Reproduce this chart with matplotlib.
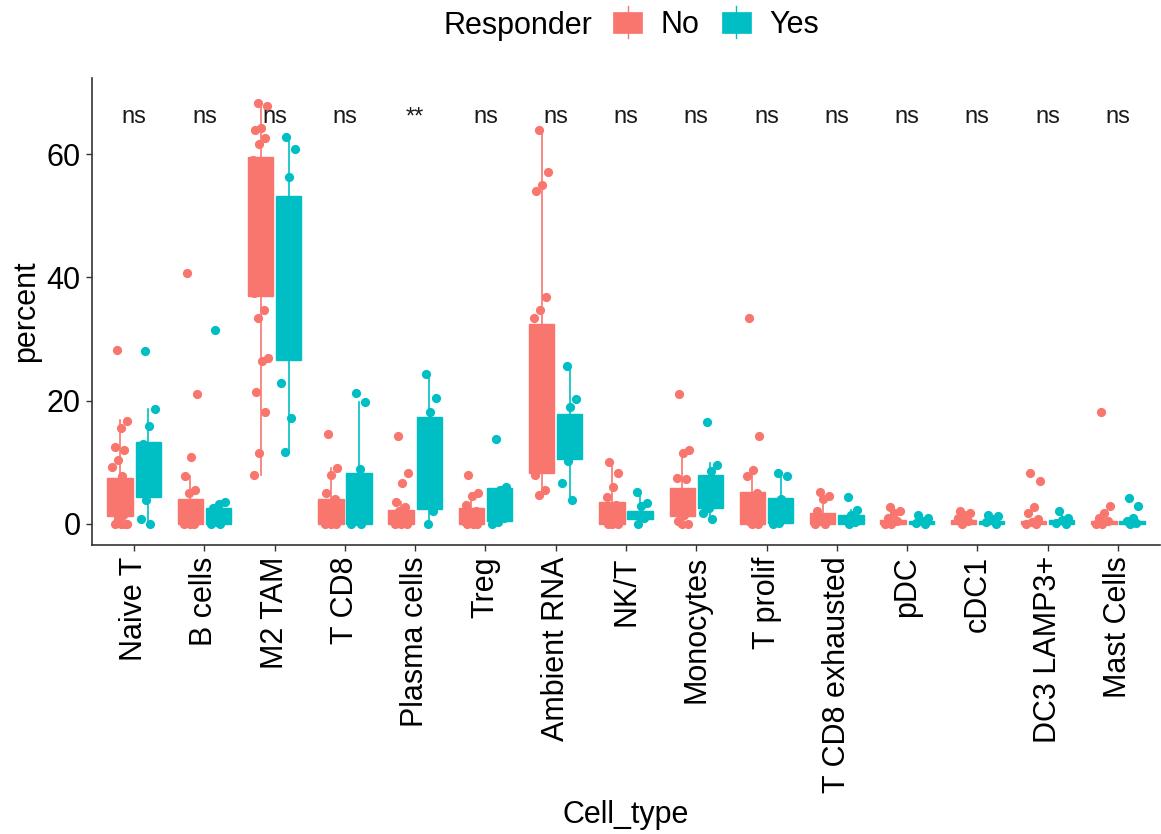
import numpy as np
import matplotlib
matplotlib.use("Agg")
import matplotlib.pyplot as plt
from matplotlib.patches import Rectangle
from matplotlib.lines import Line2D
from matplotlib.legend_handler import HandlerBase

plt.rcParams['font.family'] = ['Liberation Sans', 'DejaVu Sans']

cell_types = ["Naive T", "B cells", "M2 TAM", "T CD8", "Plasma cells", "Treg",
              "Ambient RNA", "NK/T", "Monocytes", "T prolif", "T CD8 exhausted",
              "pDC", "cDC1", "DC3 LAMP3+", "Mast Cells"]
signif = ["ns", "ns", "ns", "ns", "**", "ns", "ns", "ns", "ns", "ns", "ns",
          "ns", "ns", "ns", "ns"]

# box stats per cell type: q1, median, q3, lower whisker, upper whisker
no_q1 = [1.2, 0, 37.0, 0, 0, 0, 8.2, 0, 1.2, 0, 0, 0, 0, 0, 0]
no_med = [3.5, 1.5, 47.0, 1.5, 1.0, 1.0, 15.0, 1.0, 3.0, 2.0, 0.5, 0.3, 0.3, 0.2, 0.1]
no_q3 = [7.4, 4.0, 59.6, 4.0, 2.3, 2.6, 32.4, 3.5, 5.8, 5.2, 1.7, 0.6, 0.6, 0.4, 0.4]
no_lo = [0, 0, 8.0, 0, 0, 0, 4.7, 0, 0, 0, 0, 0, 0, 0, 0]
no_hi = [16.9, 7.8, 68.4, 9.0, 3.6, 5.0, 63.9, 10.1, 11.5, 8.8, 5.2, 1.5, 1.5, 0.8, 1.0]

yes_q1 = [4.3, 0, 26.6, 0, 2.4, 0.4, 10.5, 0.8, 2.5, 0.2, 0, 0, 0, 0, 0]
yes_med = [9.0, 1.0, 38.0, 3.0, 8.0, 3.0, 13.0, 1.2, 5.0, 2.0, 0.6, 0.2, 0.3, 0.2, 0.1]
yes_q3 = [13.3, 2.6, 53.2, 8.3, 17.4, 5.8, 17.9, 2.0, 8.0, 4.2, 1.5, 0.4, 0.5, 0.6, 0.4]
yes_lo = [0, 0, 11.6, 0, 0, 0, 3.9, 0, 0.8, 0, 0, 0, 0, 0, 0]
yes_hi = [18.7, 3.6, 62.8, 19.7, 24.4, 5.9, 25.7, 5.1, 9.8, 8.2, 2.3, 1.0, 1.2, 1.5, 0.6]

# individual samples (percent)
no_points = [
    [28.3, 16.7, 15.5, 12.5, 12.0, 10.4, 9.2, 7.7, 6.5, 5.0, 3.8, 2.5, 1.5, 1.0, 0, 0, 0, 0],
    [40.7, 21.0, 10.9, 7.8, 5.5, 5.0, 3.0, 2.0, 1.0, 0.5, 0, 0, 0],
    [68.4, 67.8, 64.2, 63.9, 62.6, 61.6, 59.0, 55.0, 50.0, 45.0, 40.0, 37.5, 34.7, 33.5,
     27.0, 26.4, 21.4, 18.2, 11.5, 8.0],
    [14.6, 9.0, 7.9, 5.0, 4.0, 3.0, 2.0, 1.0, 0.5, 0, 0, 0],
    [14.3, 8.2, 6.7, 3.6, 2.8, 2.0, 1.5, 1.0, 0.5, 0, 0, 0],
    [7.9, 5.0, 4.5, 3.0, 2.0, 1.0, 0.5, 0, 0, 0],
    [63.9, 57.1, 55.1, 54.0, 36.8, 34.7, 33.5, 28.0, 20.0, 15.0, 10.0, 8.0, 5.5, 4.7],
    [10.1, 8.2, 6.0, 4.4, 3.0, 2.0, 1.0, 0.5, 0, 0, 0],
    [21.0, 12.0, 11.5, 7.4, 7.2, 5.0, 3.0, 1.5, 0.5, 0, 0],
    [33.4, 14.3, 8.8, 7.8, 5.0, 3.0, 2.0, 1.0, 0.5, 0, 0],
    [5.2, 4.5, 4.0, 2.0, 1.0, 0.5, 0, 0],
    [2.8, 2.0, 1.7, 1.0, 0.5, 0, 0],
    [2.0, 1.8, 1.5, 1.0, 0.5, 0],
    [8.2, 7.0, 2.8, 1.8, 0.8, 0.3, 0, 0],
    [18.1, 2.9, 1.8, 1.0, 0.4, 0, 0],
]
yes_points = [
    [28.0, 18.7, 15.8, 13.0, 8.0, 3.9, 0.8, 0],
    [31.4, 3.6, 3.2, 2.5, 1.0, 0.3, 0, 0],
    [62.8, 60.9, 56.3, 50.0, 40.0, 30.0, 22.8, 17.1, 11.6],
    [21.3, 19.7, 8.9, 5.0, 2.0, 0.5, 0, 0],
    [24.4, 20.5, 18.2, 10.0, 2.0, 0],
    [13.7, 5.9, 5.5, 3.0, 1.0, 0.3, 0],
    [25.7, 20.2, 19.0, 15.0, 12.0, 10.2, 6.7, 3.9],
    [5.1, 3.4, 2.9, 1.5, 1.0, 0],
    [16.6, 9.6, 8.5, 6.0, 4.0, 2.5, 1.7, 0.8],
    [8.2, 7.7, 4.0, 2.0, 1.0, 0.2, 0],
    [4.4, 2.3, 1.5, 0.8, 0.3, 0],
    [1.5, 1.0, 0.5, 0.2, 0],
    [1.5, 1.2, 0.8, 0.3, 0],
    [2.1, 1.0, 0.6, 0.2, 0],
    [4.2, 2.9, 1.0, 0.4, 0.2, 0],
]

col_no = "#F8766D"
col_yes = "#00BFC4"


class BoxKeyHandler(HandlerBase):
    def create_artists(self, legend, orig_handle, xdescent, ydescent,
                       width, height, fontsize, trans):
        c = orig_handle.get_facecolor()
        rect = Rectangle((-xdescent, -ydescent), width, height,
                         facecolor=c, edgecolor=c, lw=0.5, transform=trans)
        ext = height * 0.28
        line = Line2D([-xdescent + width / 2] * 2,
                      [-ydescent - ext, -ydescent + height + ext],
                      color=c, lw=1.0, transform=trans)
        return [line, rect]


def stats(q1, med, q3, lo, hi):
    return [dict(q1=a, med=b, q3=c, whislo=d, whishi=e)
            for a, b, c, d, e in zip(q1, med, q3, lo, hi)]


def main():
    fig = plt.figure(figsize=(11.61, 8.34), dpi=100)
    ax = fig.add_axes([0.0792, 0.3465, 0.920, 0.560])

    x = np.arange(1, len(cell_types) + 1)
    off = 0.2
    bw = 0.36
    groups = [(stats(no_q1, no_med, no_q3, no_lo, no_hi), no_points, col_no, -off),
              (stats(yes_q1, yes_med, yes_q3, yes_lo, yes_hi), yes_points, col_yes, off)]

    for st, pts, col, dx in groups:
        ax.bxp(st, positions=x + dx, widths=bw, patch_artist=True,
               showfliers=False, showcaps=False,
               boxprops=dict(facecolor=col, edgecolor=col, lw=1.0),
               medianprops=dict(color=col, lw=1.0),
               whiskerprops=dict(color=col, lw=1.2), zorder=2)
        for xi, vals in zip(x, pts):
            n = len(vals)
            jit = ((np.arange(n) * 0.618034 + 0.3) % 1 - 0.5) * 0.22
            ax.scatter(xi + dx + jit, vals, s=44, color=col, lw=0, zorder=3)

    for xi, lab in zip(x, signif):
        ax.text(xi, 66.0, lab, ha='center', va='center', fontsize=17, color='#1a1a1a')

    ax.set_xlim(0.4, 15.6)
    ax.set_ylim(-3.45, 72.4)
    ax.set_xticks(x)
    ax.set_xticklabels(cell_types, rotation=90)
    ax.set_yticks([0, 20, 40, 60])
    ax.tick_params(axis='both', labelsize=22, length=4, width=1.0, pad=4, color='#333333')
    for s in ['top', 'right']:
        ax.spines[s].set_visible(False)
    for s in ['left', 'bottom']:
        ax.spines[s].set_linewidth(1.2)
        ax.spines[s].set_color('#333333')
    ax.set_xlabel("Cell_type", fontsize=22, labelpad=5)
    ax.set_ylabel("percent", fontsize=22, labelpad=4)

    fig.text(443 / 1161, 1 - 26 / 834, "Responder", fontsize=22, ha='left', va='center')
    h_no = Rectangle((0, 0), 1, 1, facecolor=col_no)
    h_yes = Rectangle((0, 0), 1, 1, facecolor=col_yes)
    fig.legend([h_no, h_yes], ["No", "Yes"], loc='center left',
               bbox_to_anchor=(613 / 1161, 1 - 25 / 834), ncol=2, frameon=False,
               fontsize=22, handlelength=0.95, handleheight=0.66,
               handletextpad=0.62, columnspacing=0.72, borderpad=0, borderaxespad=0,
               handler_map={Rectangle: BoxKeyHandler()})

    fig.savefig("out.png", dpi=100)


if __name__ == "__main__":
    main()
